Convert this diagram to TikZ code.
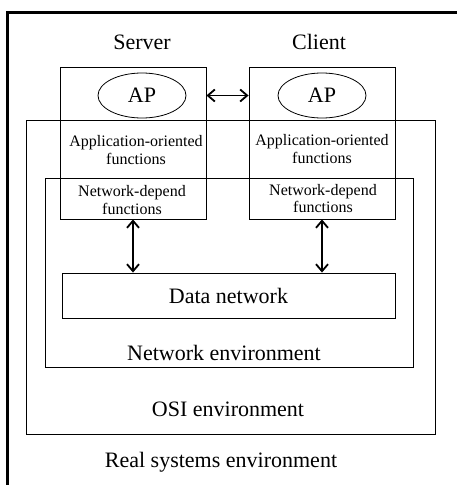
\documentclass[tikz,border=0pt]{standalone}
\usepackage{fontspec}
\setmainfont{Liberation Serif}
\usetikzlibrary{arrows.meta,shapes.geometric}

\begin{document}
\begin{tikzpicture}[x=1pt,y=-1pt,
  box/.style={draw, line width=0.9pt, inner sep=0pt},
  big/.style={font=\fontsize{22}{26}\selectfont, inner sep=0pt},
  small/.style={font=\fontsize{16}{17.5}\selectfont, align=center, inner sep=0pt},
  link/.style={{Straight Barb[length=7pt,width=12pt]}-{Straight Barb[length=7pt,width=12pt]}, line width=1.8pt}]
\useasboundingbox (0,0) rectangle (456,485);
\coordinate (tl) at (7.5,12.5);
\coordinate (tr) at (470,12.5);
\coordinate (bl) at (7.5,495);
 \draw[line width=2.5pt] (bl) -- (tl) -- (tr);
 % environments
 \node[box, minimum width=409pt, minimum height=314pt] (osi) at (230.5,277) {};
 \node[box, minimum width=368pt, minimum height=189pt] (netenv) at (229,272.5) {};
 \node[box, minimum width=333pt, minimum height=45pt] (data) at (228.5,295.5) {};
 % end systems
 \node[box, minimum width=146pt, minimum height=152pt] (srv) at (133,143) {};
 \node[box, minimum width=146pt, minimum height=152pt] (cli) at (322,143) {};
 \node[draw, ellipse, line width=0.8pt, minimum width=88pt, minimum height=45pt, inner sep=0pt, font=\fontsize{22}{26}\selectfont] (ap1) at (142,95.5) {AP};
 \node[draw, ellipse, line width=0.8pt, minimum width=88pt, minimum height=45pt, inner sep=0pt, font=\fontsize{22}{26}\selectfont] (ap2) at (322,95.5) {AP};
 % labels
 \node[big] (srvname) at (142,42) {Server};
 \node[big] (cliname) at (319,42) {Client};
 \node[small] (app1) at (136,150) {Application-oriented\\functions};
 \node[small] (app2) at (322,149) {Application-oriented\\functions};
 \node[small] (nd1) at (132,200) {Network-depend\\functions};
 \node[small] (nd2) at (323,198.5) {Network-depend\\functions};
 \node[big] (datatxt) at (data) {Data network};
 \node[big] (nettxt) at (224,353) {Network environment};
 \node[big] (ositxt) at (228,409) {OSI environment};
 \node[big] (realtxt) at (221,462) {Real systems environment};
 % connections
 \draw[link] (srv.east |- ap1) -- (cli.west |- ap2);
 \draw[link] (srv.south) -- (srv.south |- data.north);
 \draw[link] (cli.south) -- (cli.south |- data.north);
\end{tikzpicture}
\end{document}
